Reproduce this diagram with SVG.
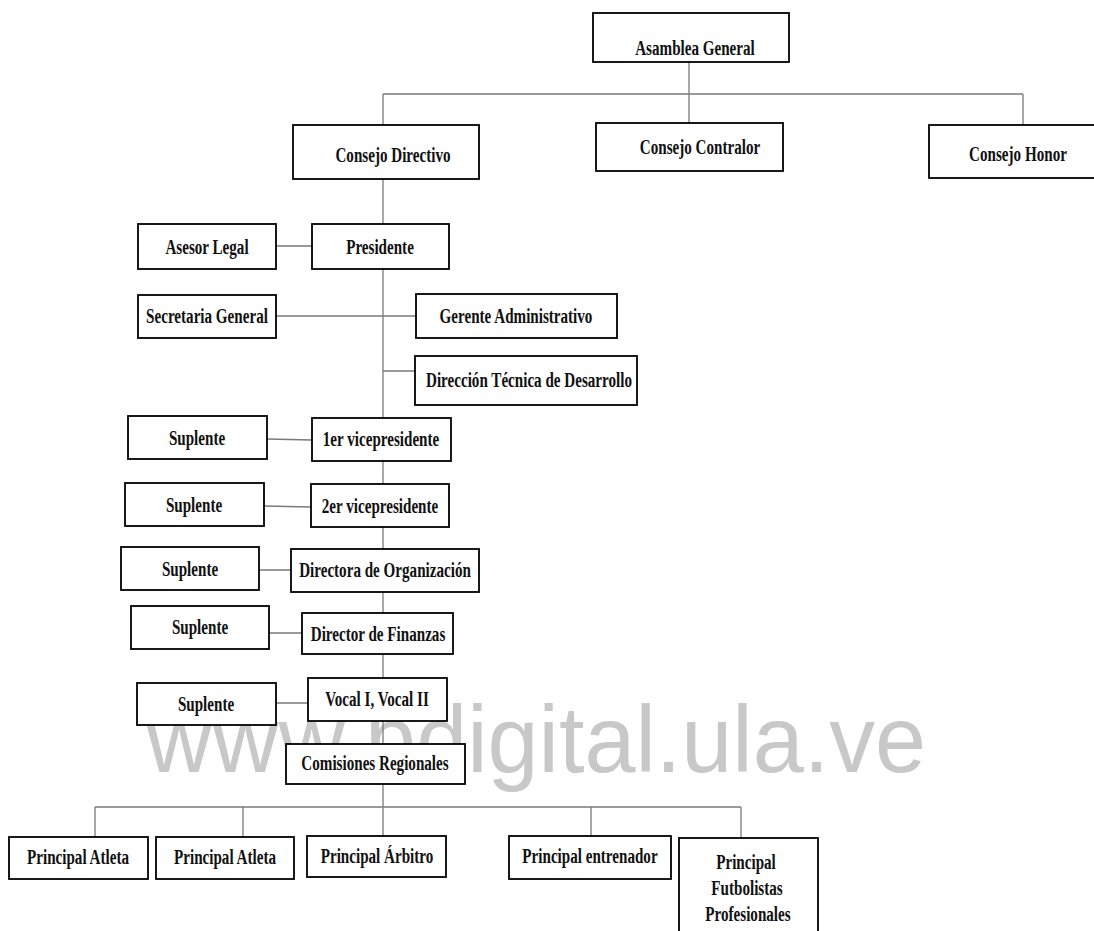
<svg xmlns="http://www.w3.org/2000/svg" width="1094" height="931" viewBox="0 0 1094 931">
<style>
.bg{fill:#fff}
.wm{font-family:"Liberation Sans",Arial,sans-serif;font-size:94px;fill:#c8c8c8}
.c{fill:none;stroke:#7a7a7a;stroke-width:1.3}
.n rect{fill:#fff;stroke:#000;stroke-width:1.8}
.n text{font-family:"Liberation Serif","Times New Roman",serif;font-weight:bold;font-size:21px;fill:#111;text-anchor:middle}
</style>
<rect class="bg" x="0" y="0" width="1094" height="931"/>
<text class="wm" x="146" y="772" textLength="780" lengthAdjust="spacingAndGlyphs">www.bdigital.ula.ve</text>
<g id="connectors">
<path class="c" d="M689 62V125M383 94H1023M383 94V125M1023 94V126"/>
<path class="c" d="M383 174V744"/>
<path class="c" d="M276 246H312M276 316H416M383 371H415"/>
<path class="c" d="M267 439L312 440M264 506L311 507M259 570H291M269 633H302M276 703H308"/>
<path class="c" d="M383 784V839M95 807H741M95 807V838M243 807V838M591 807V837M741 807V839"/>
</g>
<g id="asamblea" class="n"><rect x="593" y="13" width="196" height="49"/><text transform="translate(695 55) scale(0.72 1)">Asamblea General</text></g>
<g id="consejo-directivo" class="n"><rect x="293" y="125" width="186" height="54"/><text transform="translate(393 162) scale(0.72 1)">Consejo Directivo</text></g>
<g id="consejo-contralor" class="n"><rect x="596" y="123" width="187" height="48"/><text transform="translate(700 154) scale(0.72 1)">Consejo Contralor</text></g>
<g id="consejo-honor" class="n"><rect x="929" y="125" width="170" height="53"/><text transform="translate(1018 161) scale(0.72 1)">Consejo Honor</text></g>
<g id="asesor-legal" class="n"><rect x="138" y="224" width="138" height="45"/><text transform="translate(207 254) scale(0.72 1)">Asesor Legal</text></g>
<g id="presidente" class="n"><rect x="312" y="224" width="137" height="45"/><text transform="translate(380 254) scale(0.72 1)">Presidente</text></g>
<g id="secretaria-general" class="n"><rect x="138" y="295" width="138" height="43"/><text transform="translate(207 323) scale(0.72 1)">Secretaria General</text></g>
<g id="gerente-administrativo" class="n"><rect x="416" y="294" width="201" height="44"/><text transform="translate(516 323) scale(0.72 1)">Gerente Administrativo</text></g>
<g id="direccion-tecnica" class="n"><rect x="415" y="356" width="222" height="49"/><text transform="translate(529 387) scale(0.72 1)">Dirección Técnica de Desarrollo</text></g>
<g id="suplente-1" class="n"><rect x="128" y="416" width="139" height="43"/><text transform="translate(197 445) scale(0.72 1)">Suplente</text></g>
<g id="vicepresidente-1" class="n"><rect x="312" y="418" width="139" height="43"/><text transform="translate(381 446) scale(0.72 1)">1er vicepresidente</text></g>
<g id="suplente-2" class="n"><rect x="125" y="483" width="139" height="43"/><text transform="translate(194 512) scale(0.72 1)">Suplente</text></g>
<g id="vicepresidente-2" class="n"><rect x="311" y="484" width="138" height="43"/><text transform="translate(380 513) scale(0.72 1)">2er vicepresidente</text></g>
<g id="suplente-3" class="n"><rect x="121" y="547" width="138" height="43"/><text transform="translate(190 576) scale(0.72 1)">Suplente</text></g>
<g id="directora-organizacion" class="n"><rect x="291" y="549" width="188" height="43"/><text transform="translate(385 577) scale(0.72 1)">Directora de Organización</text></g>
<g id="suplente-4" class="n"><rect x="131" y="606" width="138" height="43"/><text transform="translate(200 634) scale(0.72 1)">Suplente</text></g>
<g id="director-finanzas" class="n"><rect x="302" y="613" width="151" height="41"/><text transform="translate(378 641) scale(0.72 1)">Director de Finanzas</text></g>
<g id="suplente-5" class="n"><rect x="137" y="683" width="139" height="42"/><text transform="translate(206 711) scale(0.72 1)">Suplente</text></g>
<g id="vocal" class="n"><rect x="308" y="678" width="139" height="43"/><text transform="translate(377 706) scale(0.72 1)">Vocal I, Vocal II</text></g>
<g id="comisiones-regionales" class="n"><rect x="286" y="744" width="179" height="40"/><text transform="translate(375 770) scale(0.72 1)">Comisiones Regionales</text></g>
<g id="principal-atleta-1" class="n"><rect x="9" y="837" width="139" height="42"/><text transform="translate(78 864) scale(0.72 1)">Principal Atleta</text></g>
<g id="principal-atleta-2" class="n"><rect x="156" y="837" width="138" height="42"/><text transform="translate(225 864) scale(0.72 1)">Principal Atleta</text></g>
<g id="principal-arbitro" class="n"><rect x="307" y="836" width="139" height="41"/><text transform="translate(377 863) scale(0.72 1)">Principal Árbitro</text></g>
<g id="principal-entrenador" class="n"><rect x="509" y="836" width="162" height="43"/><text transform="translate(590 863) scale(0.72 1)">Principal entrenador</text></g>
<g id="principal-futbolistas" class="n"><rect x="679" y="838" width="139" height="110"/><text transform="translate(746 869) scale(0.72 1)">Principal</text><text transform="translate(747 895) scale(0.72 1)">Futbolistas</text><text transform="translate(748 921) scale(0.72 1)">Profesionales</text></g>
</svg>
